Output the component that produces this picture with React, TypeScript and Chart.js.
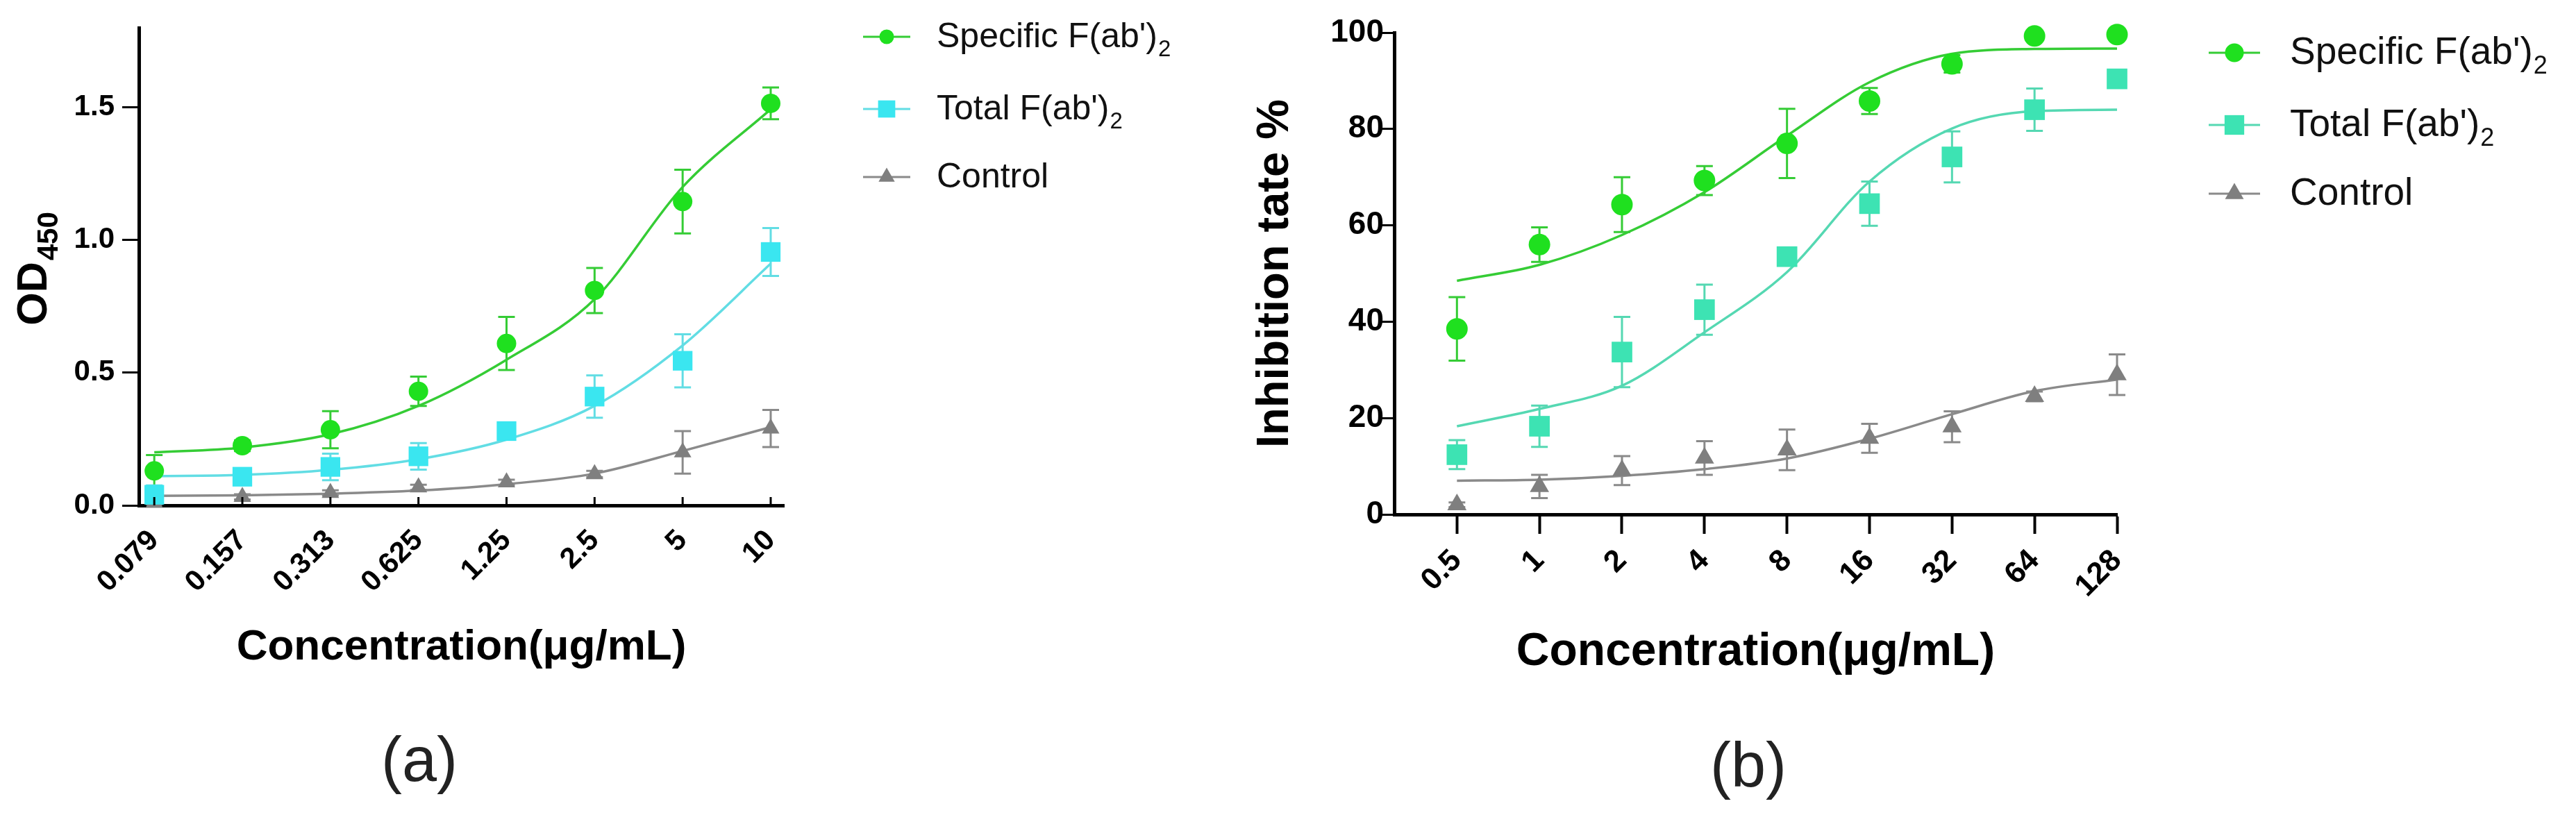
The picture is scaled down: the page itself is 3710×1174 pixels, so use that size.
import React, { useEffect, useRef } from 'react';
import { Chart, registerables } from 'chart.js';

Chart.register(...registerables);

const FONT = "'Liberation Sans', Arial, Helvetica, sans-serif";

// ---------------- Panel (a): ELISA OD450 ----------------
const concA = ['0.079', '0.157', '0.313', '0.625', '1.25', '2.5', '5', '10'];
const specificA = [0.13, 0.225, 0.285, 0.43, 0.61, 0.81, 1.145, 1.515];
const specificAErr = [0.06, 0.02, 0.07, 0.055, 0.1, 0.085, 0.12, 0.06];
const specificAFit = [0.2, 0.218, 0.268, 0.375, 0.549, 0.777, 1.2, 1.493];
const totalA = [0.04, 0.108, 0.145, 0.185, 0.28, 0.41, 0.545, 0.955];
const totalAErr = [0.035, 0.025, 0.05, 0.05, 0.02, 0.08, 0.1, 0.09];
const totalAFit = [0.11, 0.115, 0.134, 0.174, 0.248, 0.375, 0.603, 0.911];
const controlA = [0.01, 0.032, 0.047, 0.068, 0.087, 0.118, 0.2, 0.29];
const controlAErr = [0.005, 0.01, 0.01, 0.01, 0.01, 0.012, 0.08, 0.07];
const controlAFit = [0.036, 0.038, 0.044, 0.056, 0.08, 0.12, 0.205, 0.295];
const yTicksA = [0, 0.5, 1.0, 1.5];

// ---------------- Panel (b): inhibition rate ----------------
const concB = ['0.5', '1', '2', '4', '8', '16', '32', '64', '128'];
const specificB = [38.5, 56.0, 64.3, 69.3, 77.0, 85.8, 93.5, 99.3, 99.6];
const specificBErr = [6.6, 3.6, 5.7, 3.0, 7.2, 2.7, 1.8, 0.5, 0.5];
const specificBFit = [48.5, 51.8, 58.0, 66.9, 78.6, 89.7, 95.6, 96.6, 96.7];
const totalB = [12.4, 18.3, 33.7, 42.5, 53.5, 64.5, 74.2, 84.0, 90.4];
const totalBErr = [3.0, 4.3, 7.3, 5.2, 1.5, 4.6, 5.3, 4.4, 1.5];
const totalBFit = [18.3, 21.9, 26.7, 37.8, 50.3, 69.1, 80.1, 83.7, 84.0];
const controlB = [2.0, 5.8, 9.1, 11.7, 13.4, 15.8, 18.2, 24.5, 29.0];
const controlBErr = [0.5, 2.4, 3.0, 3.5, 4.2, 3.0, 3.2, 1.0, 4.2];
const controlBFit = [7.0, 7.2, 8.0, 9.4, 11.6, 15.7, 20.8, 25.6, 28.0];
const yTicksB = [0, 20, 40, 60, 80, 100];

const seriesNames = ["Specific F(ab')", "Total F(ab')", 'Control'];
const seriesSubs = ['2', '2', ''];
const xTitle = 'Concentration(μg/mL)';
const yTitleB = 'Inhibition tate %';
const yTitleAMain = 'OD';
const yTitleASub = '450';
const panelLabels = ['(a)', '(b)'];

type Style = 'circle' | 'rect' | 'triangle';

function drawMarker(ctx: CanvasRenderingContext2D, style: Style, x: number, y: number, r: number, color: string) {
  ctx.fillStyle = color;
  ctx.beginPath();
  if (style === 'circle') {
    ctx.arc(x, y, r, 0, Math.PI * 2);
  } else if (style === 'rect') {
    const s = r * Math.SQRT1_2;
    ctx.rect(x - s, y - s, 2 * s, 2 * s);
  } else {
    const a1 = (2 * Math.PI) / 3;
    const a2 = (4 * Math.PI) / 3;
    ctx.moveTo(x, y - r);
    ctx.lineTo(x + r * Math.sin(a1), y - r * Math.cos(a1));
    ctx.lineTo(x + r * Math.sin(a2), y - r * Math.cos(a2));
    ctx.closePath();
  }
  ctx.fill();
}

const GREEN_M = '#1fe01f';
const GREEN_L = '#35cc35';
const GRAY_M = '#7f7f7f';
const GRAY_L = '#8a8a8a';

const panelA = {
  left: 0,
  width: 1760,
  height: 1174,
  cats: concA,
  xMin: -0.175,
  xMax: 7.15,
  yMin: 0,
  yMax: 1.8,
  yTicks: yTicksA,
  yFmt: (v: number) => v.toFixed(1),
  pad: { top: 40, right: 631, bottom: 146 },
  yAxisWidth: 200,
  xAxisHeight: 300,
  xTick: { size: 42, pad: 26, outLen: 0, width: 3, innerLen: 12 },
  yTick: { size: 42, pad: 11, len: 24, width: 3 },
  xTitle: { size: 62, padBottom: 58 },
  yTitle: null as null | { size: number; padTop: number },
  odTitle: { baselineX: 67, centerY: 387, size: 61, subSize: 42, subOffset: 16 },
  series: [
    { mean: specificA, err: specificAErr, fit: specificAFit, marker: GREEN_M, line: GREEN_L, style: 'circle' as Style, radius: 14, legendRadius: 10.5 },
    { mean: totalA, err: totalAErr, fit: totalAFit, marker: '#3ae6f0', line: '#62dde4', style: 'rect' as Style, radius: 20, legendRadius: 17.5 },
    { mean: controlA, err: controlAErr, fit: controlAFit, marker: GRAY_M, line: GRAY_L, style: 'triangle' as Style, radius: 14.5, legendRadius: 13.5 },
  ],
  legend: { markerX: 1277, lineHalf: 34, textX: 1349, rows: [53, 157, 255], size: 50, baseOff: 15 },
  label: { text: panelLabels[0], cx: 604, baseline: 1125, size: 90 },
};

const panelB = {
  left: 1760,
  width: 1950,
  height: 1174,
  cats: concB,
  xMin: -0.76,
  xMax: 8,
  yMin: 0,
  yMax: 100,
  yTicks: yTicksB,
  yFmt: (v: number) => String(v),
  pad: { top: 47, right: 661, bottom: 133 },
  yAxisWidth: 248,
  xAxisHeight: 300,
  xTick: { size: 44, pad: 13, outLen: 28, width: 4, innerLen: 0 },
  yTick: { size: 46, pad: -6, len: 21, width: 3 },
  xTitle: { size: 66, padBottom: 62 },
  yTitle: { size: 65, padTop: 38 } as null | { size: number; padTop: number },
  odTitle: null as null | { baselineX: number; centerY: number; size: number; subSize: number; subOffset: number },
  series: [
    { mean: specificB, err: specificBErr, fit: specificBFit, marker: GREEN_M, line: GREEN_L, style: 'circle' as Style, radius: 15.5, legendRadius: 13.5 },
    { mean: totalB, err: totalBErr, fit: totalBFit, marker: '#3de3b3', line: '#55d8b2', style: 'rect' as Style, radius: 21, legendRadius: 20 },
    { mean: controlB, err: controlBErr, fit: controlBFit, marker: GRAY_M, line: GRAY_L, style: 'triangle' as Style, radius: 16, legendRadius: 15.5 },
  ],
  legend: { markerX: 3218, lineHalf: 37, textX: 3298, rows: [76, 180, 279], size: 55, baseOff: 16 },
  label: { text: panelLabels[1], cx: 2518, baseline: 1133, size: 90 },
};

type Panel = typeof panelA;

function buildChart(canvas: HTMLCanvasElement, p: Panel) {
  const datasets: any[] = [];
  p.series.forEach((s, k) => {
    datasets.push({
      label: seriesNames[k] + seriesSubs[k] + ' fit',
      data: s.fit.map((v, i) => ({ x: i, y: v })),
      borderColor: s.line,
      borderWidth: 3.5,
      pointRadius: 0,
      pointHoverRadius: 0,
      cubicInterpolationMode: 'monotone',
      fill: false,
      order: 2,
      clip: false,
    });
    datasets.push({
      label: seriesNames[k] + seriesSubs[k],
      data: s.mean.map((v, i) => ({ x: i, y: v })),
      showLine: false,
      pointStyle: s.style,
      pointRadius: s.radius,
      pointHoverRadius: s.radius,
      pointBackgroundColor: s.marker,
      pointBorderColor: s.marker,
      pointBorderWidth: 0,
      order: 0,
      clip: false,
    });
  });

  const errorBars = {
    id: 'errorBars',
    beforeDatasetsDraw(chart: any) {
      const { ctx, scales } = chart;
      const x = scales.x;
      const y = scales.y;
      p.series.forEach((s) => {
        ctx.save();
        ctx.strokeStyle = s.line;
        ctx.lineWidth = 3;
        s.mean.forEach((m, i) => {
          const px = x.getPixelForValue(i);
          const top = y.getPixelForValue(m + s.err[i]);
          const bot = y.getPixelForValue(Math.max(m - s.err[i], 0));
          ctx.beginPath();
          ctx.moveTo(px, top);
          ctx.lineTo(px, bot);
          ctx.moveTo(px - 12, top);
          ctx.lineTo(px + 12, top);
          ctx.moveTo(px - 12, bot);
          ctx.lineTo(px + 12, bot);
          ctx.stroke();
        });
        ctx.restore();
      });
    },
  };

  const decor = {
    id: 'decor',
    afterDraw(chart: any) {
      const { ctx, chartArea, scales } = chart;
      const off = p.left;
      ctx.save();
      if (p.xTick.innerLen > 0) {
        ctx.strokeStyle = '#000';
        ctx.lineWidth = p.xTick.width;
        p.cats.forEach((_, i) => {
          const px = scales.x.getPixelForValue(i);
          ctx.beginPath();
          ctx.moveTo(px, chartArea.bottom);
          ctx.lineTo(px, chartArea.bottom - p.xTick.innerLen);
          ctx.stroke();
        });
      }
      if (p.odTitle) {
        const t = p.odTitle;
        ctx.fillStyle = '#000';
        ctx.font = `bold ${t.size}px ${FONT}`;
        const w1 = ctx.measureText(yTitleAMain).width;
        ctx.font = `bold ${t.subSize}px ${FONT}`;
        const w2 = ctx.measureText(yTitleASub).width;
        const total = w1 + 2 + w2;
        ctx.translate(t.baselineX - off, t.centerY + total / 2);
        ctx.rotate(-Math.PI / 2);
        ctx.textAlign = 'left';
        ctx.textBaseline = 'alphabetic';
        ctx.font = `bold ${t.size}px ${FONT}`;
        ctx.fillText(yTitleAMain, 0, 0);
        ctx.font = `bold ${t.subSize}px ${FONT}`;
        ctx.fillText(yTitleASub, w1 + 2, t.subOffset);
        ctx.setTransform(1, 0, 0, 1, 0, 0);
      }
      const L = p.legend;
      p.series.forEach((s, k) => {
        const y = L.rows[k];
        const mx = L.markerX - off;
        ctx.strokeStyle = s.line;
        ctx.lineWidth = 3;
        ctx.beginPath();
        ctx.moveTo(mx - L.lineHalf, y);
        ctx.lineTo(mx + L.lineHalf, y);
        ctx.stroke();
        drawMarker(ctx, s.style, mx, y, s.legendRadius, s.marker);
        ctx.fillStyle = '#111';
        ctx.textAlign = 'left';
        ctx.textBaseline = 'alphabetic';
        ctx.font = `${L.size}px ${FONT}`;
        const bx = L.textX - off;
        const by = y + L.baseOff;
        ctx.fillText(seriesNames[k], bx, by);
        const w = ctx.measureText(seriesNames[k]).width;
        if (seriesSubs[k]) {
          ctx.font = `${Math.round(L.size * 0.66)}px ${FONT}`;
          ctx.fillText(seriesSubs[k], bx + w + 1, by + L.size * 0.25);
        }
      });
      ctx.fillStyle = '#222';
      ctx.font = `${p.label.size}px ${FONT}`;
      ctx.textAlign = 'center';
      ctx.textBaseline = 'alphabetic';
      ctx.fillText(p.label.text, p.label.cx - off, p.label.baseline);
      ctx.restore();
    },
  };

  return new Chart(canvas, {
    type: 'line',
    data: { datasets },
    options: {
      animation: false,
      responsive: false,
      devicePixelRatio: 1,
      events: [],
      layout: { padding: { top: p.pad.top, right: p.pad.right, bottom: p.pad.bottom, left: 0 } },
      plugins: { legend: { display: false }, tooltip: { enabled: false }, title: { display: false } },
      scales: {
        x: {
          type: 'linear',
          min: p.xMin,
          max: p.xMax,
          afterBuildTicks: (ax: any) => {
            ax.ticks = p.cats.map((_, i) => ({ value: i }));
          },
          afterFit: (ax: any) => {
            ax.height = p.xAxisHeight;
          },
          ticks: {
            autoSkip: false,
            minRotation: 45,
            maxRotation: 45,
            padding: p.xTick.pad,
            color: '#000',
            font: { family: FONT, size: p.xTick.size, weight: 'bold' },
            callback: (v: any) => p.cats[Math.round(Number(v))] ?? '',
          },
          grid: {
            drawOnChartArea: false,
            drawTicks: p.xTick.outLen > 0,
            tickLength: p.xTick.outLen,
            tickWidth: p.xTick.width,
            tickColor: '#000',
            color: '#000',
          },
          border: { display: true, width: 5, color: '#000' },
          title: {
            display: true,
            text: xTitle,
            color: '#000',
            font: { family: FONT, size: p.xTitle.size, weight: 'bold' },
            padding: { top: 0, bottom: p.xTitle.padBottom },
          },
        },
        y: {
          type: 'linear',
          min: p.yMin,
          max: p.yMax,
          afterBuildTicks: (ax: any) => {
            ax.ticks = p.yTicks.map((v) => ({ value: v }));
          },
          afterFit: (ax: any) => {
            ax.width = p.yAxisWidth;
          },
          ticks: {
            padding: p.yTick.pad,
            color: '#000',
            font: { family: FONT, size: p.yTick.size, weight: 'bold' },
            callback: (v: any) => p.yFmt(Number(v)),
          },
          grid: {
            drawOnChartArea: false,
            drawTicks: true,
            tickLength: p.yTick.len,
            tickWidth: p.yTick.width,
            tickColor: '#000',
            color: '#000',
          },
          border: { display: true, width: 5, color: '#000' },
          title: p.yTitle
            ? {
                display: true,
                text: yTitleB,
                color: '#000',
                font: { family: FONT, size: p.yTitle.size, weight: 'bold' },
                padding: { top: p.yTitle.padTop, bottom: 0 },
              }
            : { display: false },
        },
      },
    } as any,
    plugins: [errorBars, decor],
  });
}

function PanelChart({ spec }: { spec: Panel }) {
  const ref = useRef<HTMLCanvasElement>(null);
  useEffect(() => {
    if (!ref.current) return;
    const chart = buildChart(ref.current, spec);
    return () => chart.destroy();
  }, [spec]);
  return (
    <canvas
      ref={ref}
      width={spec.width}
      height={spec.height}
      style={{ position: 'absolute', left: spec.left, top: 0, width: spec.width, height: spec.height }}
    />
  );
}

export default function App() {
  return (
    <div
      style={{
        position: 'absolute',
        left: 0,
        top: 0,
        width: 3710,
        height: 1174,
        background: '#fff',
        overflow: 'hidden',
      }}
    >
      <PanelChart spec={panelA} />
      <PanelChart spec={panelB as Panel} />
    </div>
  );
}
